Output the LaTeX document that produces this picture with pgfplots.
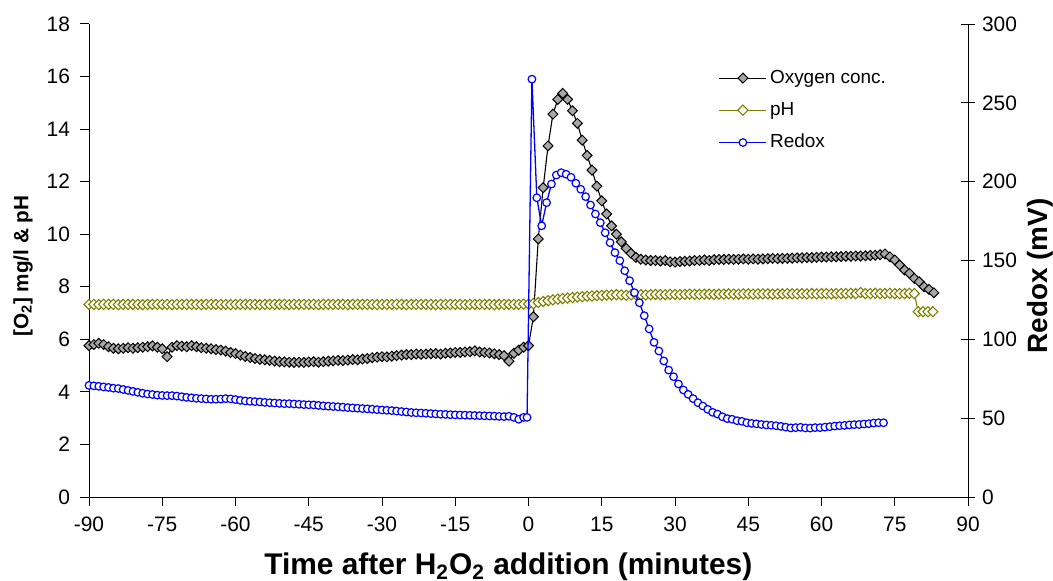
\documentclass[border=0pt]{standalone}
\usepackage{fontspec}
\setmainfont{Liberation Sans}
\usepackage{pgfplots}
\pgfplotsset{compat=1.18}
\usepackage{pgfplotstable}

\definecolor{oxyfill}{HTML}{A6A6A6}
\definecolor{olivec}{HTML}{808000}
\definecolor{rdxblue}{HTML}{0000FF}

% oxygen, mg/l
\pgfplotstableread{
t v
-90 5.76
-89 5.80
-88 5.85
-87 5.80
-86 5.72
-85 5.66
-84 5.64
-83 5.66
-82 5.68
-81 5.66
-80 5.68
-79 5.70
-78 5.72
-77 5.75
-76 5.70
-75 5.64
-74 5.34
-73 5.70
-72 5.76
-71 5.74
-70 5.72
-69 5.76
-68 5.72
-67 5.68
-66 5.66
-65 5.64
-64 5.61
-63 5.59
-62 5.55
-61 5.50
-60 5.46
-59 5.40
-58 5.35
-57 5.31
-56 5.27
-55 5.24
-54 5.22
-53 5.20
-52 5.17
-51 5.15
-50 5.14
-49 5.13
-48 5.12
-47 5.13
-46 5.12
-45 5.14
-44 5.15
-43 5.13
-42 5.15
-41 5.17
-40 5.18
-39 5.20
-38 5.19
-37 5.21
-36 5.23
-35 5.22
-34 5.25
-33 5.27
-32 5.30
-31 5.32
-30 5.34
-29 5.33
-28 5.36
-27 5.38
-26 5.40
-25 5.42
-24 5.42
-23 5.44
-22 5.43
-21 5.44
-20 5.45
-19 5.46
-18 5.44
-17 5.47
-16 5.48
-15 5.50
-14 5.50
-13 5.52
-12 5.53
-11 5.56
-10 5.52
-9 5.50
-8 5.48
-7 5.45
-6 5.42
-5 5.38
-4 5.17
-3 5.47
-2 5.59
-1 5.70
0 5.76
1 6.86
2 9.82
3 11.77
4 13.36
5 14.57
6 15.13
7 15.36
8 15.13
9 14.70
10 14.22
11 13.58
12 13.00
13 12.44
14 11.83
15 11.27
16 10.77
17 10.32
18 10.00
19 9.71
20 9.46
21 9.27
22 9.12
23 9.05
24 9.02
25 9.00
26 9.00
27 8.98
28 9.00
29 8.95
30 8.94
31 8.96
32 8.97
33 8.98
34 9.00
35 9.00
36 9.02
37 9.00
38 9.03
39 9.04
40 9.04
41 9.05
42 9.04
43 9.05
44 9.06
45 9.05
46 9.06
47 9.05
48 9.06
49 9.07
50 9.08
51 9.07
52 9.08
53 9.08
54 9.09
55 9.10
56 9.10
57 9.11
58 9.11
59 9.12
60 9.13
61 9.13
62 9.14
63 9.14
64 9.15
65 9.16
66 9.16
67 9.17
68 9.17
69 9.18
70 9.19
71 9.20
72 9.22
73 9.25
74 9.14
75 9.02
76 8.83
77 8.64
78 8.51
79 8.32
80 8.19
81 8.00
82 7.90
83 7.77
}\oxy

% pH
\pgfplotstableread{
t v
-90 7.33
-89 7.33
-88 7.32
-87 7.33
-86 7.33
-85 7.33
-84 7.32
-83 7.33
-82 7.33
-81 7.33
-80 7.33
-79 7.32
-78 7.33
-77 7.33
-76 7.33
-75 7.33
-74 7.33
-73 7.32
-72 7.33
-71 7.33
-70 7.33
-69 7.33
-68 7.33
-67 7.32
-66 7.33
-65 7.33
-64 7.33
-63 7.33
-62 7.33
-61 7.32
-60 7.33
-59 7.33
-58 7.33
-57 7.33
-56 7.33
-55 7.32
-54 7.33
-53 7.33
-52 7.33
-51 7.33
-50 7.33
-49 7.32
-48 7.33
-47 7.33
-46 7.33
-45 7.33
-44 7.33
-43 7.32
-42 7.33
-41 7.33
-40 7.33
-39 7.33
-38 7.33
-37 7.32
-36 7.33
-35 7.33
-34 7.33
-33 7.33
-32 7.33
-31 7.32
-30 7.33
-29 7.33
-28 7.33
-27 7.33
-26 7.33
-25 7.32
-24 7.33
-23 7.33
-22 7.33
-21 7.33
-20 7.33
-19 7.32
-18 7.33
-17 7.33
-16 7.33
-15 7.33
-14 7.33
-13 7.32
-12 7.33
-11 7.33
-10 7.33
-9 7.33
-8 7.33
-7 7.32
-6 7.33
-5 7.33
-4 7.33
-3 7.33
-2 7.33
-1 7.34
0 7.34
1 7.36
2 7.40
3 7.44
4 7.47
5 7.50
6 7.53
7 7.55
8 7.57
9 7.59
10 7.61
11 7.62
12 7.64
13 7.65
14 7.66
15 7.67
16 7.68
17 7.69
18 7.70
19 7.69
20 7.68
21 7.69
22 7.70
23 7.70
24 7.69
25 7.70
26 7.71
27 7.70
28 7.70
29 7.71
30 7.71
31 7.70
32 7.71
33 7.72
34 7.71
35 7.71
36 7.72
37 7.72
38 7.71
39 7.72
40 7.72
41 7.73
42 7.72
43 7.72
44 7.73
45 7.73
46 7.72
47 7.73
48 7.73
49 7.73
50 7.72
51 7.73
52 7.73
53 7.74
54 7.73
55 7.73
56 7.74
57 7.73
58 7.74
59 7.73
60 7.74
61 7.74
62 7.73
63 7.74
64 7.74
65 7.74
66 7.75
67 7.74
68 7.78
69 7.74
70 7.74
71 7.75
72 7.74
73 7.74
74 7.75
75 7.74
76 7.74
77 7.74
78 7.75
79 7.74
79.8 7.05
80.8 7.05
81.8 7.05
82.8 7.05
}\ph

% redox, mV
\pgfplotstableread{
t v
-90 70.8
-89 70.5
-88 70.2
-87 69.8
-86 69.5
-85 69.0
-84 68.8
-83 68.2
-82 67.6
-81 67.0
-80 66.4
-79 65.8
-78 65.3
-77 65.0
-76 64.6
-75 64.4
-74 64.3
-73 64.3
-72 64.0
-71 63.6
-70 63.2
-69 62.9
-68 62.6
-67 62.4
-66 62.2
-65 62.0
-64 62.0
-63 62.1
-62 62.4
-61 62.2
-60 61.8
-59 61.3
-58 60.9
-57 60.7
-56 60.5
-55 60.3
-54 60.0
-53 59.8
-52 59.6
-51 59.4
-50 59.2
-49 59.2
-48 59.0
-47 58.8
-46 58.6
-45 58.5
-44 58.4
-43 58.1
-42 57.8
-41 57.6
-40 57.4
-39 57.2
-38 57.0
-37 56.7
-36 56.5
-35 56.3
-34 56.1
-33 55.9
-32 55.7
-31 55.4
-30 55.2
-29 55.0
-28 54.8
-27 54.5
-26 54.2
-25 53.9
-24 53.6
-23 53.4
-22 53.3
-21 53.1
-20 52.9
-19 52.7
-18 52.5
-17 52.4
-16 52.2
-15 52.1
-14 52.0
-13 51.9
-12 51.8
-11 51.7
-10 51.6
-9 51.5
-8 51.4
-7 51.3
-6 51.1
-5 51.0
-4 51.2
-3 50.5
-2 49.3
-1 50.5
-0.3 50.5
0.7 265.0
1.7 189.8
2.7 172.0
3.7 186.7
4.7 198.5
5.7 204.2
6.7 205.7
7.7 204.7
8.7 202.8
9.7 199.0
10.7 195.2
11.7 190.5
12.7 185.2
13.7 179.5
14.7 174.0
15.7 167.6
16.7 161.3
17.7 155.0
18.7 149.9
19.7 143.5
20.7 137.2
21.7 129.6
22.7 123.2
23.7 115.0
24.7 106.6
25.7 98.1
26.7 92.6
27.7 86.3
28.7 80.5
29.7 76.3
30.7 71.7
31.7 67.9
32.7 65.1
33.7 62.4
34.7 59.8
35.7 57.7
36.7 55.6
37.7 53.7
38.7 52.6
39.7 50.9
40.7 49.7
41.7 49.3
42.7 48.4
43.7 48.0
44.7 47.1
45.7 46.7
46.7 46.4
47.7 46.0
48.7 45.7
49.7 45.5
50.7 45.2
51.7 44.8
52.7 44.3
53.7 43.8
54.7 44.0
55.7 44.2
56.7 43.8
57.7 43.7
58.7 44.0
59.7 44.0
60.7 44.3
61.7 44.6
62.7 45.0
63.7 45.2
64.7 45.4
65.7 45.7
66.7 45.9
67.7 46.0
68.7 46.3
69.7 46.5
70.7 46.9
71.7 47.1
72.7 47.1
}\rdx

\tikzset{
  oxyst/.style={black, line width=0.55bp, mark=square*, mark size=1.75bp,
    mark options={rotate=45, fill=oxyfill, draw=black, line width=0.5bp}},
  phst/.style={olivec, line width=0.55bp, mark=square*, mark size=1.8bp,
    mark options={rotate=45, fill=white, draw=olivec, line width=0.55bp}},
  rdxst/.style={rdxblue, line width=0.65bp, mark=*, mark size=1.9bp,
    mark options={fill=white, draw=rdxblue, line width=0.6bp}},
}
\pgfplotsset{
  base/.style={
    scale only axis, width=439.5bp, height=236.5bp,
    xmin=-90, xmax=90, clip=false,
    axis line style={black, line width=0.5bp},
    tick style={black, line width=0.5bp},
    tick label style={font=\fontsize{10.5}{12}\selectfont},
    /pgf/number format/assume math mode=true,
  },
}

\begin{document}
\begin{tikzpicture}
\useasboundingbox (-44.5bp,-42bp) rectangle (482bp,248.5bp);
\begin{axis}[base,
  ymin=0, ymax=18,
  xtick={-90,-75,...,90}, ytick={0,2,...,18},
  axis x line*=bottom, axis y line*=left,
  tick align=outside, major tick length=4.5bp,
  xticklabel shift=2bp, yticklabel shift=1.5bp,
  xlabel={Time after H\textsubscript{2}O\textsubscript{2} addition (minutes)},
  ylabel={[O\textsubscript{2}] mg/l \& pH},
  xlabel style={at={(axis description cs:0.477,-0.148)}, anchor=center,
    font=\bfseries\fontsize{15}{17}\selectfont},
  ylabel style={at={(axis description cs:-0.075,0.488)}, anchor=center,
    font=\bfseries\fontsize{10.4}{12}\selectfont},
]
  \addplot[phst] table[x=t, y=v] {\ph};
  \addplot[oxyst] table[x=t, y=v] {\oxy};
\end{axis}
\begin{axis}[base,
  ymin=0, ymax=300, ytick={0,50,...,300},
  axis x line=none, axis y line*=right,
  tick align=center, major tick length=7bp,
  ylabel={Redox (mV)},
  ylabel style={at={(axis description cs:1.082,0.467)}, anchor=center,
    font=\bfseries\fontsize{14}{16}\selectfont},
  legend style={at={(0.716,0.91)}, anchor=north west, draw=none, fill=none,
    font=\fontsize{9.5}{11}\selectfont, row sep=5bp, inner sep=0pt,
    nodes={inner sep=1.5bp}},
  legend cell align=left,
  legend image code/.code={\draw[mark repeat=2, mark phase=2]
    plot coordinates {(0bp,0bp) (11.75bp,0bp) (23.5bp,0bp)};},
]
  \addlegendimage{oxyst}
  \addlegendentry{Oxygen conc.}
  \addlegendimage{phst}
  \addlegendentry{pH}
  \addplot[rdxst] table[x=t, y=v] {\rdx};
  \addlegendentry{Redox}
\end{axis}
\end{tikzpicture}
\end{document}
